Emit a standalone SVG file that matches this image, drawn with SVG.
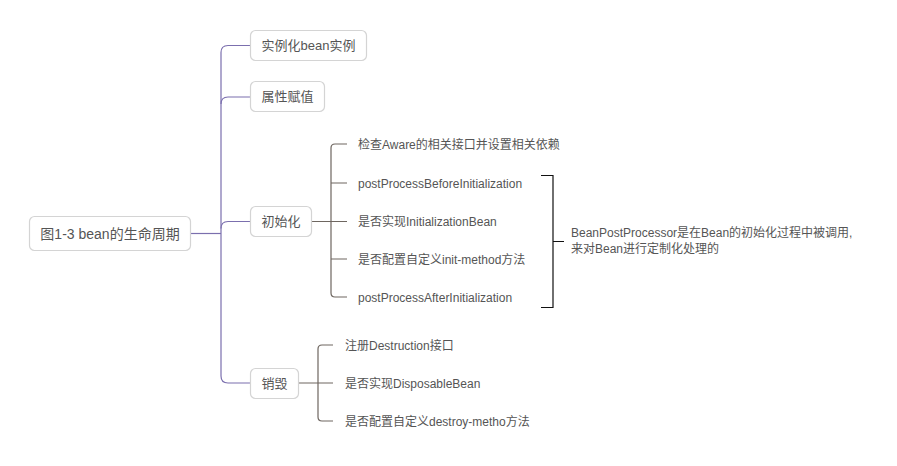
<svg xmlns="http://www.w3.org/2000/svg" width="897" height="466" viewBox="0 0 897 466">
<style>
.box{fill:#fff;stroke:#d4d4d4;stroke-width:1.2}
.t{font-family:"Liberation Sans","Noto Sans CJK SC",sans-serif;fill:#555}
.n{font-size:13px}
.r{font-size:14px}
.c{font-size:12px}
.p{fill:none;stroke:#7b6fae;stroke-width:1.2}
.g{fill:none;stroke:#6e6660;stroke-width:1.2}
.b{fill:none;stroke:#111;stroke-width:1.2}
</style>
<rect width="897" height="466" fill="#fff"/>
<g id="connectors">
<path class="p" d="M191 233.5 H221"/>
<path class="p" d="M251 45.5 H228 Q221 45.5 221 52.5 V376 Q221 383 228 383 H251"/>
<path class="p" d="M221 104 Q221 97 228 97 H251"/>
<path class="p" d="M221 228.5 Q221 221.5 228 221.5 H251"/>
<path class="g" d="M312 221.5 H347"/>
<path class="g" d="M347 144 H335 Q331 144 331 148 V293 Q331 297 335 297 H347"/>
<path class="g" d="M331 183 H347 M331 259 H347"/>
<path class="g" d="M299 383 H333"/>
<path class="g" d="M333 345 H322 Q318 345 318 349 V417 Q318 421 322 421 H333"/>
<path class="b" d="M541 175.5 H553 V307.5 H541 M553 241.5 H564"/>
</g>
<g id="root">
<rect class="box" x="29.5" y="216.5" width="161" height="34" rx="5"/>
<text class="t r" x="110" y="238.5" text-anchor="middle">图1-3 bean的生命周期</text>
</g>
<g id="n1">
<rect class="box" x="250.5" y="30.5" width="116" height="30" rx="5"/>
<text class="t n" x="308.5" y="50" text-anchor="middle">实例化bean实例</text>
</g>
<g id="n2">
<rect class="box" x="250.5" y="81.5" width="74" height="30" rx="5"/>
<text class="t n" x="287.5" y="101" text-anchor="middle">属性赋值</text>
</g>
<g id="n3">
<rect class="box" x="250.5" y="206.5" width="61" height="30" rx="5"/>
<text class="t n" x="281" y="226" text-anchor="middle">初始化</text>
</g>
<g id="n4">
<rect class="box" x="250.5" y="368.5" width="48" height="30" rx="5"/>
<text class="t n" x="274.5" y="388" text-anchor="middle">销毁</text>
</g>
<g id="c1"><text class="t c" x="358" y="148.5">检查Aware的相关接口并设置相关依赖</text></g>
<g id="c2"><text class="t c" x="358" y="187.5">postProcessBeforeInitialization</text></g>
<g id="c3"><text class="t c" x="358" y="225.5">是否实现InitializationBean</text></g>
<g id="c4"><text class="t c" x="358" y="263.5">是否配置自定义init-method方法</text></g>
<g id="c5"><text class="t c" x="358" y="301.5">postProcessAfterInitialization</text></g>
<g id="d1"><text class="t c" x="345" y="349.5">注册Destruction接口</text></g>
<g id="d2"><text class="t c" x="345" y="387.5">是否实现DisposableBean</text></g>
<g id="d3"><text class="t c" x="345" y="425.5">是否配置自定义destroy-metho方法</text></g>
<g id="note">
<text class="t c" x="571" y="236.5">BeanPostProcessor是在Bean的初始化过程中被调用,</text>
<text class="t c" x="571" y="253">来对Bean进行定制化处理的</text>
</g>
</svg>
